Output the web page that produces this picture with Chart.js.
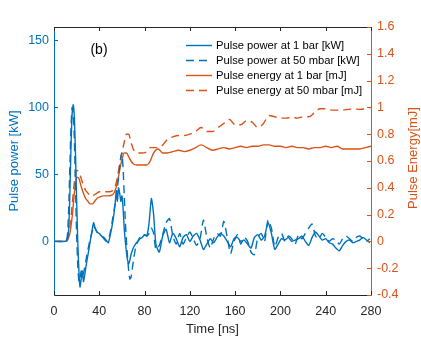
<!DOCTYPE html>
<html>
<head>
<meta charset="utf-8">
<script src="https://cdn.jsdelivr.net/npm/chart.js@4"></script>
<style>
html, body { margin: 0; padding: 0; background: #fff; }
</style>
</head>
<body>
<canvas id="pulseChart" width="421" height="337"></canvas>
<script>
// time axis of the power traces [ns]
let timeP = [0, 10, 11, 12, 13, 14, 15, 16, 17, 18, 19, 20, 21, 22, 23, 24, 25, 26, 27, 28,
    30, 32, 34, 35, 36, 38, 40, 42, 44, 46, 48, 50, 52, 54, 55, 56, 57, 58, 59, 60,
    61, 62, 63, 64, 65, 66, 67, 68, 70, 72, 74, 76, 78, 80, 82, 84, 86, 88,
    90, 93, 96, 99, 102, 105, 108, 111, 114, 117, 120, 123, 126, 129, 132, 135, 138, 141, 144, 147,
    150, 153, 156, 159, 162, 165, 168, 171, 174, 177, 180, 183, 186, 189, 192, 195, 198, 201, 204, 207,
    210, 213, 216, 219, 222, 225, 228, 231, 234, 237, 240, 243, 246, 249, 252, 255, 258, 261, 264, 267,
    270, 273, 276, 279];

// pulse power at 1 bar [kW]
let powerBar = [0, 0, 0.5, 2, 10, 35, 70, 95, 102, 92, 65, 30, 0, -22, -34, -28, -22, -30, -26, -20,
    -10, 0, 10, 14, 11, 7, 6, 4, 3, 1, -1, 6, 15, 28, 38, 30, 40, 36, 30, 34,
    25, 10, 0, -8, -14, -17, -14, -10, -5, -2, 0, 2, 3, 5, 4, 14, 32, 20,
    -2, -8, 4, 9, -1, 6, 2, -4, 3, 5, 0, 4, 6, 1, -6, -2, 2, -1, 3, 6,
    4, 0, -4, 2, 3, 0, 1, -2, -5, 3, 5, 1, 4, 14, 6, -6, -2, 2, 1, 3,
    0, 1, 2, 4, 0, -3, 3, 7, 4, 1, 2, -1, -2, -5, -7, -3, 0, 1, -1, 0,
    1, 3, 1, -1];

// pulse power at 50 mbar [kW]
let powerMbar = [0, 0, 1, 6, 25, 55, 85, 100, 96, 75, 40, 5, -18, -30, -28, -22, -26, -24, -20, -15,
    -6, 2, 8, 12, 10, 7, 6, 4, 2, 0, 1, 8, 18, 28, 32, 40, 48, 56, 63, 66,
    55, 35, 15, 0, -12, -22, -28, -27, -15, -5, 0, 3, 2, 5, 4, 6, 10, 6,
    -6, -3, 5, 14, 17, 4, -2, 6, -2, 3, 7, 2, -3, 2, 16, 3, -5, 2, 6, 4,
    15, 3, -9, 0, 5, -2, 3, 0, -8, -10, 3, 6, 0, 16, 10, -4, 3, 6, 0, 4,
    2, -2, 5, 2, 6, 10, 13, 4, 2, 6, 3, 0, 2, 1, -2, 2, 4, 2, 0, 3,
    4, 2, 0, 2];

// time axis of the energy traces [ns]
let timeE = [0, 10, 12, 14, 16, 18, 20, 22, 24, 26, 28, 30, 32, 34, 36, 38, 40, 44, 48, 52,
    54, 56, 58, 60, 62, 64, 66, 68, 70, 73, 77, 82, 85, 88, 92, 96, 100, 105, 110, 115,
    120, 125, 130, 135, 140, 145, 150, 155, 160, 165, 170, 175, 180, 185, 190, 195, 200, 205, 210, 215,
    220, 225, 230, 235, 240, 245, 250, 255, 260, 265, 270, 275, 280];

// pulse energy at 1 bar [mJ]
let energyBar = [0, 0, 0.01, 0.06, 0.18, 0.36, 0.48, 0.47, 0.41, 0.36, 0.32, 0.3, 0.28, 0.28, 0.3, 0.32, 0.33, 0.34, 0.34, 0.35,
    0.38, 0.44, 0.53, 0.61, 0.66, 0.66, 0.63, 0.6, 0.58, 0.57, 0.57, 0.57, 0.6, 0.66, 0.69, 0.66, 0.66, 0.67, 0.68, 0.67,
    0.68, 0.7, 0.72, 0.7, 0.68, 0.69, 0.7, 0.69, 0.7, 0.71, 0.7, 0.71, 0.71, 0.72, 0.72, 0.71, 0.71, 0.7, 0.71, 0.7,
    0.7, 0.69, 0.7, 0.7, 0.71, 0.7, 0.71, 0.69, 0.69, 0.69, 0.69, 0.7, 0.71];

// pulse energy at 50 mbar [mJ]
let energyMbar = [0, 0, 0.02, 0.1, 0.27, 0.44, 0.53, 0.52, 0.47, 0.42, 0.38, 0.36, 0.34, 0.34, 0.35, 0.36, 0.37, 0.37, 0.37, 0.38,
    0.41, 0.48, 0.58, 0.66, 0.74, 0.8, 0.8, 0.74, 0.69, 0.66, 0.66, 0.67, 0.7, 0.7, 0.7, 0.72, 0.76, 0.78, 0.79, 0.79,
    0.8, 0.82, 0.85, 0.82, 0.82, 0.85, 0.88, 0.91, 0.87, 0.87, 0.9, 0.89, 0.85, 0.88, 0.94, 0.93, 0.92, 0.92, 0.925, 0.92,
    0.93, 0.93, 0.96, 0.99, 0.99, 0.98, 0.98, 0.98, 0.985, 0.99, 0.985, 0.99, 1.0];

let timeTicks = [0, 40, 80, 120, 160, 200, 240, 280];
let powerTicks = [0, 50, 100, 150];
let energyTicks = [-0.4, -0.2, 0, 0.2, 0.4, 0.6, 0.8, 1, 1.2, 1.4, 1.6];

let blue = "#0072BD";
let orange = "#D95319";
let dark = "#262626";
let fontFamily = "'Liberation Sans', Arial, sans-serif";

Chart.defaults.font.family = fontFamily;
Chart.defaults.font.size = 12.5;

function toPoints(xs, ys) {
    return xs.map((t, i) => ({ x: t, y: ys[i] }));
}

//frame, inward ticks, right axis title, legend and panel label
let decorPlugin = {
    id: "decor",
    afterDraw(chart) {
        let ctx = chart.ctx;
        let a = chart.chartArea;
        let xs = chart.scales.x;
        let yP = chart.scales.yP;
        let yE = chart.scales.yE;
        ctx.save();
        ctx.lineWidth = 1;

        ctx.strokeStyle = dark;
        ctx.beginPath();
        ctx.moveTo(a.left, a.top + 0.5);
        ctx.lineTo(a.right, a.top + 0.5);
        timeTicks.forEach(v => {
            let px = Math.round(xs.getPixelForValue(v)) + 0.5;
            ctx.moveTo(px, a.bottom);
            ctx.lineTo(px, a.bottom - 4);
            ctx.moveTo(px, a.top);
            ctx.lineTo(px, a.top + 4);
        });
        ctx.stroke();

        ctx.strokeStyle = blue;
        ctx.beginPath();
        powerTicks.forEach(v => {
            let py = Math.round(yP.getPixelForValue(v)) + 0.5;
            ctx.moveTo(a.left, py);
            ctx.lineTo(a.left + 4, py);
        });
        ctx.stroke();

        ctx.strokeStyle = orange;
        ctx.beginPath();
        energyTicks.forEach(v => {
            let py = Math.round(yE.getPixelForValue(v)) + 0.5;
            ctx.moveTo(a.right, py);
            ctx.lineTo(a.right - 4, py);
        });
        ctx.stroke();

        // right axis title, read bottom to top
        ctx.save();
        ctx.translate(yE.right - 8, (a.top + a.bottom) / 2 - 3);
        ctx.rotate(-Math.PI / 2);
        ctx.fillStyle = orange;
        ctx.font = "13px " + fontFamily;
        ctx.textAlign = "center";
        ctx.textBaseline = "middle";
        ctx.fillText("Pulse Energy[mJ]", 0, 0);
        ctx.restore();

        // panel label
        ctx.fillStyle = "#000";
        ctx.font = "14px " + fontFamily;
        ctx.textAlign = "center";
        ctx.textBaseline = "middle";
        ctx.fillText("(b)", 99, 50);

        // legend
        ctx.font = "11.2px " + fontFamily;
        ctx.textAlign = "left";
        chart.data.datasets.forEach((ds, i) => {
            let y = 45.5 + i * 15;
            ctx.strokeStyle = ds.borderColor;
            ctx.lineWidth = ds.borderWidth;
            ctx.setLineDash(ds.borderDash || []);
            ctx.beginPath();
            ctx.moveTo(186, y);
            ctx.lineTo(212, y);
            ctx.stroke();
            ctx.setLineDash([]);
            ctx.fillStyle = "#000";
            ctx.fillText(ds.label, 216, y);
        });
        ctx.restore();
    },
};

let pulseData = {
    datasets: [{
        label: "Pulse power at 1 bar [kW]",
        data: toPoints(timeP, powerBar),
        yAxisID: "yP",
        borderColor: blue,
        borderWidth: 1.4,
        tension: 0.2,
    }, {
        label: "Pulse power at 50 mbar [kW]",
        data: toPoints(timeP, powerMbar),
        yAxisID: "yP",
        borderColor: blue,
        borderWidth: 1.4,
        borderDash: [8, 5],
        tension: 0.2,
    }, {
        label: "Pulse energy at 1 bar [mJ]",
        data: toPoints(timeE, energyBar),
        yAxisID: "yE",
        borderColor: orange,
        borderWidth: 1.4,
        cubicInterpolationMode: "monotone",
    }, {
        label: "Pulse energy at 50 mbar [mJ]",
        data: toPoints(timeE, energyMbar),
        yAxisID: "yE",
        borderColor: orange,
        borderWidth: 1.4,
        borderDash: [8, 5],
        cubicInterpolationMode: "monotone",
    }, ],
};

let pulseOptions = {
    responsive: false,
    devicePixelRatio: 1,
    animation: false,
    layout: {
        padding: { top: 27, left: 0, right: 0, bottom: 0 },
    },
    elements: {
        point: { radius: 0 },
    },
    plugins: {
        legend: { display: false },
        tooltip: { enabled: false },
    },
    scales: {
        x: {
            type: "linear",
            position: "bottom",
            min: 0,
            max: 280,
            afterBuildTicks: scale => {
                scale.ticks = timeTicks.map(v => ({ value: v }));
            },
            afterFit: scale => {
                scale.height = 42;
            },
            grid: { display: false, drawTicks: false },
            border: { display: true, color: dark, width: 1 },
            ticks: { color: dark, padding: 9, maxRotation: 0 },
            title: {
                display: true,
                text: "Time [ns]",
                color: dark,
                font: { size: 13 },
                padding: { top: 0, bottom: 0 },
            },
        },
        yP: {
            type: "linear",
            position: "left",
            min: -40,
            max: 160,
            afterBuildTicks: scale => {
                scale.ticks = powerTicks.map(v => ({ value: v }));
            },
            afterFit: scale => {
                scale.width = 54;
            },
            grid: { display: false, drawTicks: false },
            border: { display: true, color: blue, width: 1 },
            ticks: { color: blue, padding: 5 },
            title: {
                display: true,
                text: "Pulse power [kW]",
                color: blue,
                font: { size: 13 },
                padding: { top: 7, bottom: 0 },
            },
        },
        yE: {
            type: "linear",
            position: "right",
            min: -0.4,
            max: 1.6,
            afterBuildTicks: scale => {
                scale.ticks = energyTicks.map(v => ({ value: v }));
            },
            afterFit: scale => {
                scale.width = 50;
            },
            grid: { display: false, drawTicks: false },
            border: { display: true, color: orange, width: 1 },
            ticks: {
                color: orange,
                padding: 6,
                callback: value => String(Number(value.toFixed(1))),
            },
        },
    },
};

new Chart(document.getElementById("pulseChart").getContext("2d"), {
    type: "line",
    data: pulseData,
    options: pulseOptions,
    plugins: [decorPlugin],
});
</script>
</body>
</html>
